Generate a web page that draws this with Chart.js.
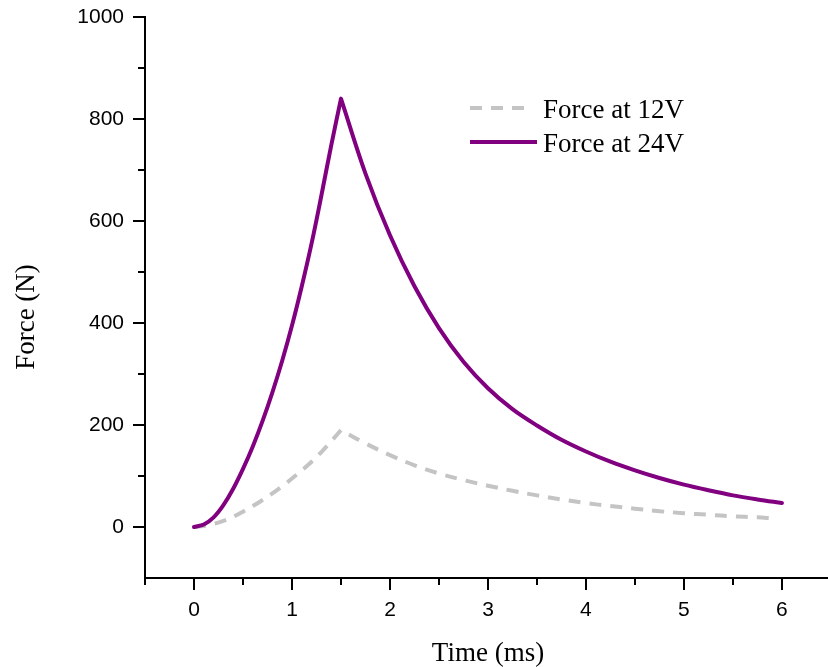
<!DOCTYPE html>
<html>
<head>
<meta charset="utf-8">
<title>Force vs Time</title>
<script src="https://cdn.jsdelivr.net/npm/chart.js@4.4.1/dist/chart.umd.min.js"></script>
<style>
    html, body { margin: 0; padding: 0; background: #fff; overflow: hidden; }
    #wrap { width: 828px; height: 667px; position: relative; }
</style>
</head>
<body>
<div id="wrap"><canvas id="forceChart"></canvas></div>
<script>
// dữ liệu (đỉnh 1.5 ms lặp hai lần để giữ đỉnh nhọn khi làm trơn)
const time12 = [0, 0.1, 0.2, 0.3, 0.4, 0.5, 0.6, 0.7, 0.8, 0.9, 1.0, 1.1, 1.2, 1.3, 1.4, 1.5, 1.5,
    1.75, 2.0, 2.25, 2.5, 2.75, 3.0, 3.25, 3.5, 3.75, 4.0, 4.25, 4.5, 4.75, 5.0, 5.25, 5.5, 5.75, 5.9];
const force12 = [0, 2, 6, 12, 20, 30, 41, 53, 66, 80, 95, 111, 128, 147, 168, 190, 190,
    164, 141, 121, 105, 92, 81, 71, 62, 54, 47, 41, 36, 31, 27, 24, 21, 19, 17];

const time24 = [0, 0.1, 0.2, 0.3, 0.4, 0.5, 0.6, 0.7, 0.8, 0.9, 1.0, 1.1, 1.2, 1.3, 1.4, 1.5, 1.5,
    1.75, 2.0, 2.25, 2.5, 2.75, 3.0, 3.25, 3.5, 3.75, 4.0, 4.25, 4.5, 4.75, 5.0, 5.25, 5.5, 5.75, 6.0];
const force24 = [0, 5, 19, 43, 75, 114, 158, 208, 264, 326, 395, 472, 556, 650, 748, 840, 840,
    693, 572, 472, 390, 324, 272, 231, 199, 171, 148, 128, 111, 96, 83, 72, 62, 54, 47];

const labels = ['Force at 12V', 'Force at 24V'];

// vạch chia trục
const xTicks = [0, 1, 2, 3, 4, 5, 6];
const xMinor = [-0.5, 0.5, 1.5, 2.5, 3.5, 4.5, 5.5];
const yTicks = [0, 200, 400, 600, 800, 1000];
const yMinor = [100, 300, 500, 700, 900];

const serif = '"Liberation Serif", "Times New Roman", serif';
const sans = '"Liberation Sans", Arial, sans-serif';

const toPoints = (xs, ys) => xs.map((t, i) => ({ x: t, y: ys[i] }));

// vẽ vạch phụ, tiêu đề trục và chú thích
const extras = {
    id: 'extras',
    afterDraw(chart) {
        const { ctx, scales: { x, y } } = chart;
        ctx.save();

        ctx.strokeStyle = '#000';
        ctx.lineWidth = 2;
        ctx.beginPath();
        xMinor.forEach(v => {
            const px = Math.round(x.getPixelForValue(v));
            ctx.moveTo(px, x.top);
            ctx.lineTo(px, x.top + 7);
        });
        yMinor.forEach(v => {
            const py = Math.round(y.getPixelForValue(v));
            ctx.moveTo(y.right, py);
            ctx.lineTo(y.right - 7, py);
        });
        ctx.stroke();

        ctx.fillStyle = '#000';
        ctx.font = '27px ' + serif;
        ctx.textAlign = 'center';
        ctx.textBaseline = 'alphabetic';
        ctx.fillText('Time (ms)', 488, 661);

        ctx.save();
        ctx.translate(27, 317);
        ctx.rotate(-Math.PI / 2);
        ctx.textBaseline = 'middle';
        ctx.fillText('Force (N)', 0, 0);
        ctx.restore();

        // chú thích
        const rows = [108, 142];
        chart.data.datasets.forEach((ds, i) => {
            const ly = rows[i];
            ctx.save();
            ctx.strokeStyle = ds.borderColor;
            ctx.lineWidth = ds.borderWidth;
            ctx.setLineDash(ds.borderDash || []);
            ctx.beginPath();
            ctx.moveTo(470, ly);
            ctx.lineTo(ds.borderDash ? 526 : 537, ly);
            ctx.stroke();
            ctx.restore();

            ctx.fillStyle = '#000';
            ctx.font = '27px ' + serif;
            ctx.textAlign = 'left';
            ctx.textBaseline = 'alphabetic';
            ctx.fillText(ds.label, 543, ly + 10);
        });

        ctx.restore();
    }
};

const ctx = document.getElementById('forceChart');

new Chart(ctx, {
    type: 'line',
    data: {
        datasets: [{
            label: labels[0],
            data: toPoints(time12, force12),
            borderColor: '#c4c4c4',
            borderWidth: 4,
            borderDash: [12, 9],
            borderJoinStyle: 'round',
            pointRadius: 0,
            tension: 0.35,
            order: 1
        }, {
            label: labels[1],
            data: toPoints(time24, force24),
            borderColor: '#800080',
            borderWidth: 4,
            borderJoinStyle: 'round',
            borderCapStyle: 'round',
            pointRadius: 0,
            tension: 0.35,
            order: 0
        }]
    },
    options: {
        responsive: true,
        maintainAspectRatio: false,
        animation: false,
        layout: { padding: { top: 17, left: 0, right: 0, bottom: 0 } },
        plugins: {
            legend: { display: false },
            tooltip: { enabled: false }
        },
        scales: {
            x: {
                type: 'linear',
                min: -0.5,
                max: 6.47,
                afterBuildTicks: s => { s.ticks = xTicks.map(v => ({ value: v })); },
                afterFit: s => {
                    s.height = 89;
                    s.paddingLeft = 0;
                    s.paddingRight = 0;
                },
                ticks: {
                    color: '#000',
                    padding: 8,
                    maxRotation: 0,
                    font: { family: sans, size: 21 },
                    callback: v => String(v)
                },
                grid: {
                    drawOnChartArea: false,
                    drawTicks: true,
                    tickLength: 12,
                    color: '#000',
                    lineWidth: 2
                },
                border: { color: '#000', width: 2 }
            },
            y: {
                min: -100,
                max: 1000,
                afterBuildTicks: s => { s.ticks = yTicks.map(v => ({ value: v })); },
                afterFit: s => {
                    s.width = 145;
                    s.paddingTop = 0;
                    s.paddingBottom = 0;
                },
                ticks: {
                    color: '#000',
                    padding: 9,
                    font: { family: sans, size: 21 },
                    callback: v => String(v)
                },
                grid: {
                    drawOnChartArea: false,
                    drawTicks: true,
                    tickLength: 12,
                    color: '#000',
                    lineWidth: 2
                },
                border: { color: '#000', width: 2 }
            }
        }
    },
    plugins: [extras]
});
</script>
</body>
</html>
